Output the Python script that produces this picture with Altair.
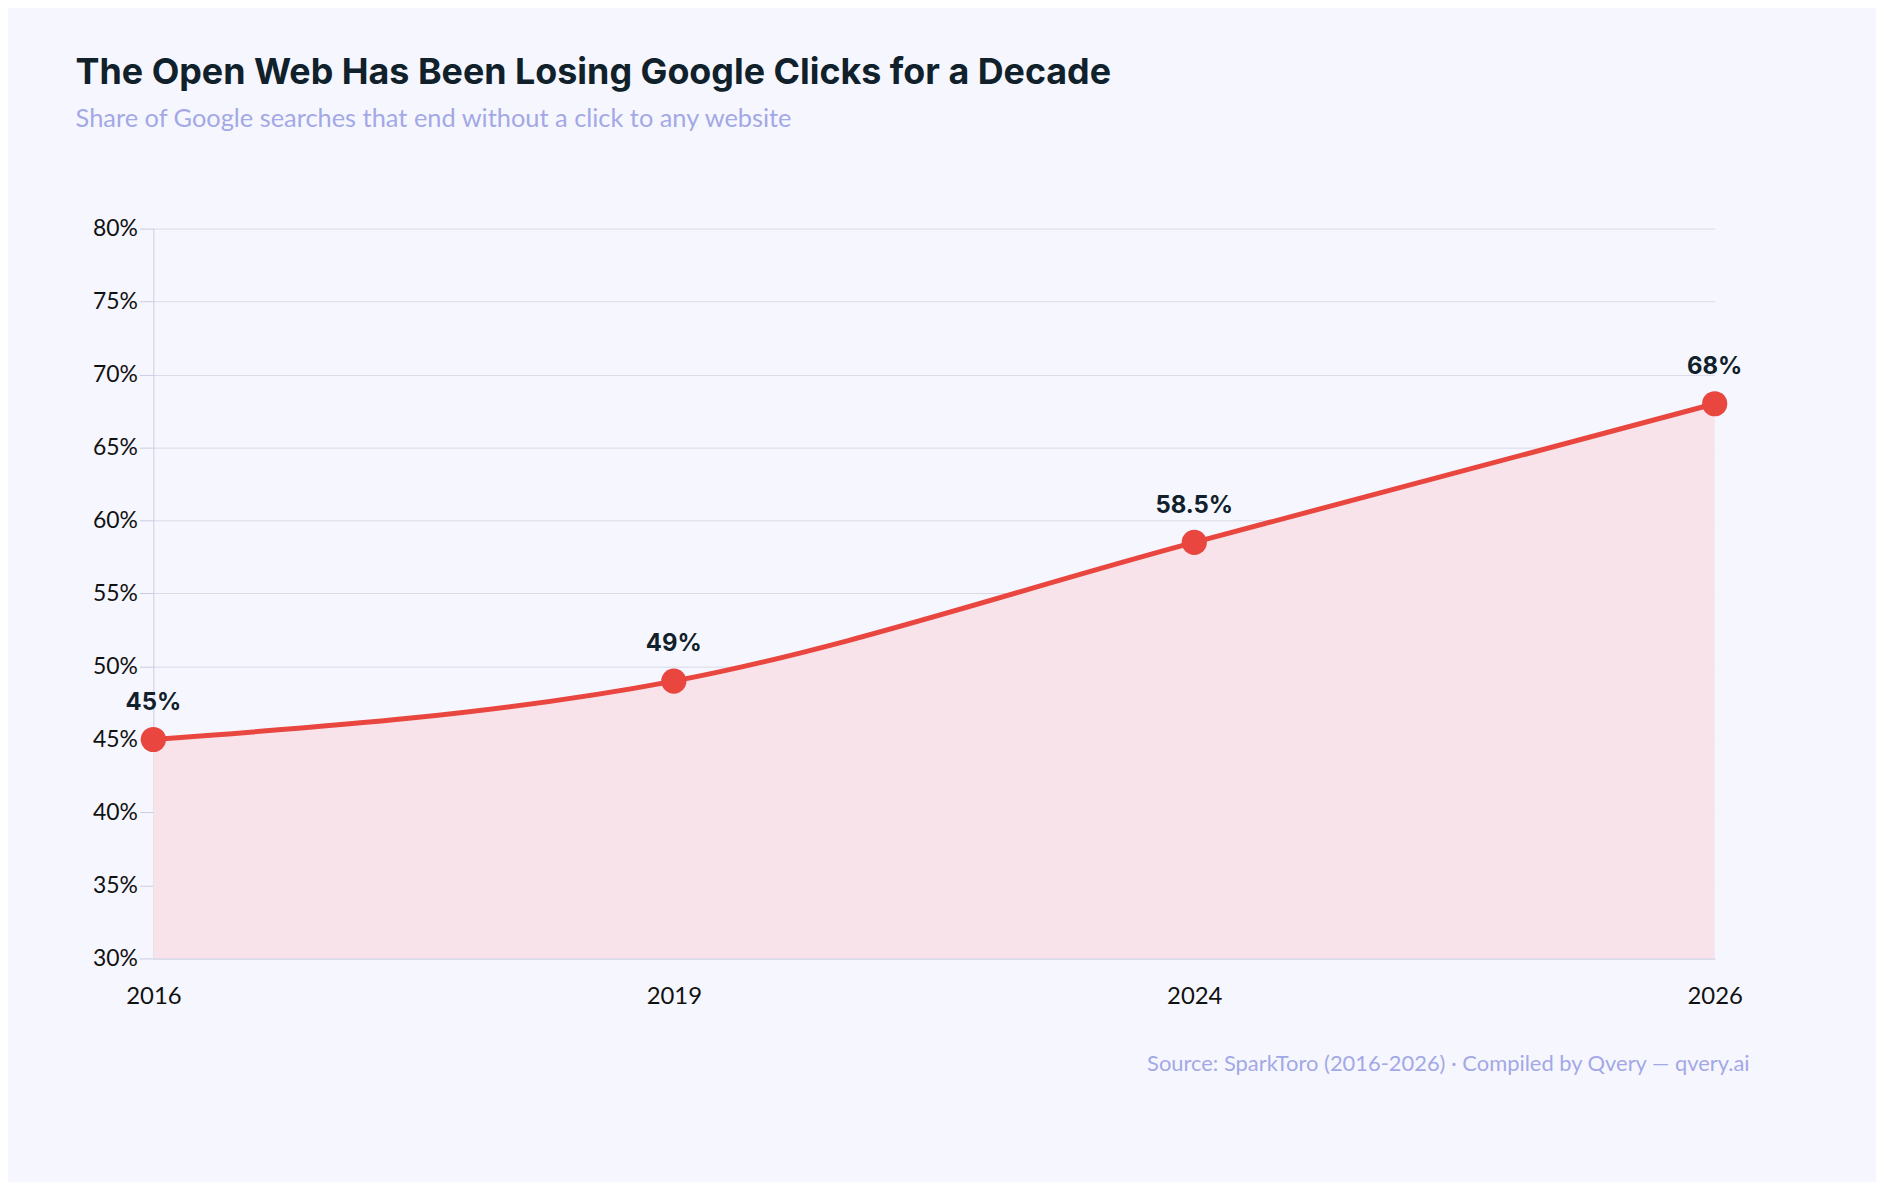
import altair as alt
import pandas as pd

years = ["2016", "2019", "2024", "2026"]
values = [0.45, 0.49, 0.585, 0.68]
labels = ["45%", "49%", "58.5%", "68%"]

df = pd.DataFrame({"year": years, "v": values, "label": labels})
W, H = 1568, 733

x = alt.X("year:O", scale=alt.Scale(type="point", padding=0), sort=years,
          axis=alt.Axis(title=None, labelAngle=0, ticks=False, labelPadding=26,
                        labelFontSize=24, labelFont="Lato", labelColor="#111",
                        domainColor="#c9cbe0", grid=False))
y = alt.Y("v:Q", scale=alt.Scale(domain=[0.3, 0.8]),
          axis=alt.Axis(title=None, format=".0%", values=[0.3 + 0.05 * i for i in range(11)],
                        ticks=True, tickColor="#c9cbe0", tickSize=14, labelPadding=2,
                        labelFontSize=23, labelFont="Lato", labelColor="#111",
                        gridColor="#d8dae8", domainColor="#c9cbe0"))

base = alt.Chart(df)
area = base.mark_area(interpolate="monotone", color="#f7e3e9").encode(x=x, y=y, y2=alt.datum(0.3))
line = base.mark_line(interpolate="monotone", color="#e8463f", strokeWidth=5).encode(x=x, y=y)
pts = base.mark_point(filled=True, opacity=1, color="#e8463f", size=640).encode(x=x, y=y)
txt = base.mark_text(dy=-37, font="Inter", fontWeight="bold", fontSize=24, color="#10212b").encode(
    x=x, y=y, text="label:N")
src = alt.Chart(pd.DataFrame({"t": ["Source: SparkToro (2016-2026) · Compiled by Qvery — qvery.ai"]})).mark_text(
    align="right", baseline="middle", font="Lato", fontSize=22, color="#a3a8e6").encode(
    x=alt.value(W + 35), y=alt.value(H + 106), text="t:N")

chart = alt.layer(area, line, pts, txt, src).properties(
    width=W, height=H,
    autosize=alt.AutoSizeParams(type="none"),
    padding={"left": 146, "top": 219, "right": 162, "bottom": 222},
    background="#f6f7fe",
    title=alt.Title("The Open Web Has Been Losing Google Clicks for a Decade",
                    subtitle="Share of Google searches that end without a click to any website",
                    anchor="start", dx=-17, offset=85, font="Inter", fontSize=36,
                    fontWeight="bold", color="#10212b", subtitleFont="Lato",
                    subtitleFontSize=25.5, subtitleColor="#a3a8e6", subtitlePadding=15),
).configure_view(stroke=None)

chart.save("out.html", embed_options={"renderer": "svg", "actions": False})
